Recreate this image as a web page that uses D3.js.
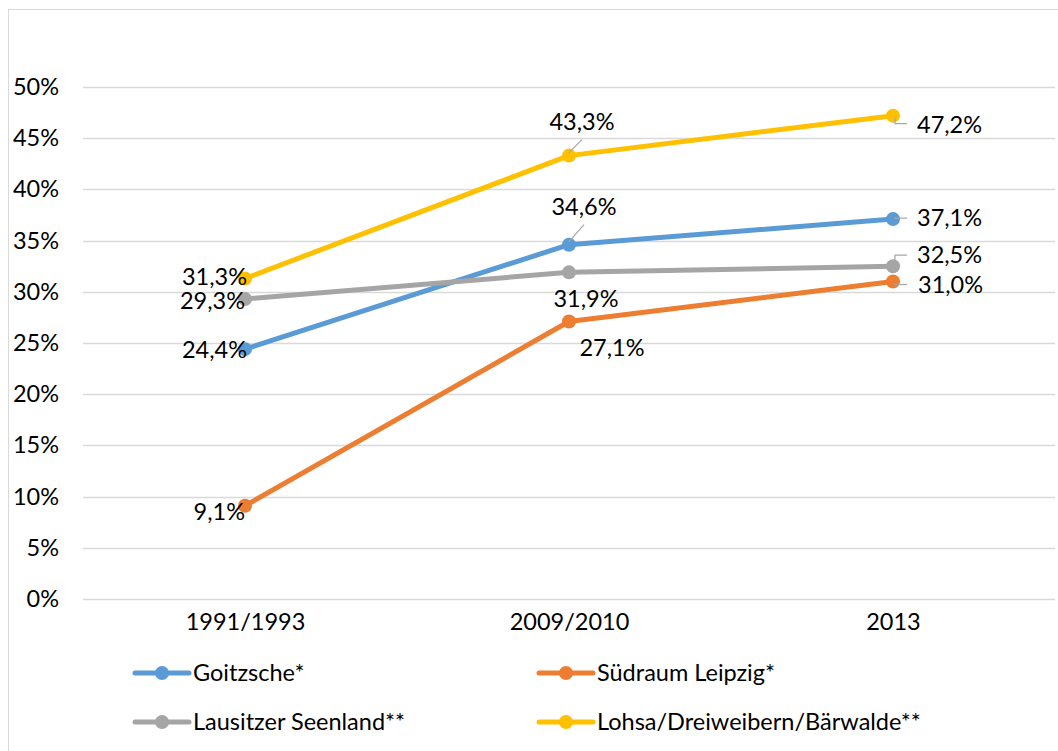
<!DOCTYPE html>
<html>
<head>
<meta charset="utf-8">
<script src="https://cdn.jsdelivr.net/npm/d3@7"></script>
<style>
  html, body { margin: 0; padding: 0; background: #fff; }
  svg { display: block; }
  text { font-family: Lato, "Open Sans", sans-serif; fill: #000; }
</style>
</head>
<body>
<svg id="chart" width="1058" height="751"></svg>
<script>
// ---- data ----
const categories = ["1991/1993", "2009/2010", "2013"];
const seriesNames = ["Goitzsche*", "Südraum Leipzig*", "Lausitzer Seenland**", "Lohsa/Dreiweibern/Bärwalde**"];
const goitzsche = [24.4, 34.6, 37.1];
const suedraumLeipzig = [9.1, 27.1, 31.0];
const lausitzerSeenland = [29.3, 31.9, 32.5];
const lohsa = [31.3, 43.3, 47.2];
const yTicks = [0, 5, 10, 15, 20, 25, 30, 35, 40, 45, 50];

// ---- styling / layout ----
const FS = 23.5;
const colors = ["#5B9BD5", "#ED7D31", "#A5A5A5", "#FFC000"];
const seriesValues = [goitzsche, suedraumLeipzig, lausitzerSeenland, lohsa];
// label placement per series per point: [dx, dy, anchor, leader]
const labelPlacement = [
  [[2, 1, "end", null], [15, -38, "middle", "diag"], [24, -1, "start", "h"]],
  [[0, 6, "end", null], [43, 26, "middle", null], [25, 3, "start", "h"]],
  [[0, 2, "end", null], [17, 26, "middle", null], [24, -11, "start", "up"]],
  [[2, -2, "end", null], [13, -34, "middle", "diag"], [24, 9, "start", "down"]]
];

const svg = d3.select("#chart");
const fmt = v => d3.format(".1f")(v).replace(".", ",") + "%";

// outer border
svg.append("rect").attr("x", 8.5).attr("y", 9.5).attr("width", 1060).attr("height", 760)
  .attr("fill", "none").attr("stroke", "#D9D9D9").attr("stroke-width", 1);

const x = d3.scalePoint().domain(categories).range([245, 893]);
const y = d3.scaleLinear().domain([0, 50]).range([599, 87]);
const plotLeft = 83, plotRight = 1055;

// gridlines
svg.append("g").selectAll("line").data(yTicks).join("line")
  .attr("x1", plotLeft).attr("x2", plotRight)
  .attr("y1", d => Math.round(y(d)) + 0.5).attr("y2", d => Math.round(y(d)) + 0.5)
  .attr("stroke", "#D9D9D9").attr("stroke-width", 1.5);

// y axis labels
const yAxis = d3.axisLeft(y).tickValues(yTicks).tickFormat(d => d + "%").tickSize(0).tickPadding(0);
const yg = svg.append("g").attr("transform", "translate(59,0)").call(yAxis);
yg.select(".domain").remove();
yg.selectAll("text").attr("font-size", FS).attr("font-family", "Lato, sans-serif").attr("fill", "#000");

// x axis labels
const xAxis = d3.axisBottom(x).tickSize(0).tickPadding(0);
const xg = svg.append("g").attr("transform", "translate(0,613)").call(xAxis);
xg.select(".domain").remove();
xg.selectAll("text").attr("font-size", FS).attr("font-family", "Lato, sans-serif").attr("fill", "#000");

// lines
const line = d3.line().x((d, i) => x(categories[i])).y(d => y(d));
seriesValues.forEach((vals, s) => {
  svg.append("path").datum(vals).attr("d", line)
    .attr("fill", "none").attr("stroke", colors[s]).attr("stroke-width", 5)
    .attr("stroke-linejoin", "round").attr("stroke-linecap", "round");
});
// markers
seriesValues.forEach((vals, s) => {
  svg.append("g").selectAll("circle").data(vals).join("circle")
    .attr("cx", (d, i) => x(categories[i])).attr("cy", d => y(d)).attr("r", 7)
    .attr("fill", colors[s]);
});

// labels + leader lines
seriesValues.forEach((vals, s) => {
  vals.forEach((v, i) => {
    const px = x(categories[i]), py = y(v);
    const [dx, dy, anchor, leader] = labelPlacement[s][i];
    const lx = px + dx, ly = py + dy;
    const lg = "#A6A6A6";
    if (leader === "diag") {
      svg.append("line").attr("x1", px).attr("y1", py - 3).attr("x2", px + dx).attr("y2", ly + 18)
        .attr("stroke", lg).attr("stroke-width", 1.2);
    } else if (leader === "h") {
      svg.append("polyline").attr("points", `${px + 1},${ly} ${px + 14},${ly}`)
        .attr("fill", "none").attr("stroke", lg).attr("stroke-width", 1.2);
    } else if (leader === "up") {
      svg.append("polyline").attr("points", `${px + 2},${py - 4} ${px + 2},${ly} ${px + 14},${ly}`)
        .attr("fill", "none").attr("stroke", lg).attr("stroke-width", 1.2);
    } else if (leader === "down") {
      svg.append("polyline").attr("points", `${px + 2},${py + 2} ${px + 2},${ly - 1} ${px + 14},${ly - 1}`)
        .attr("fill", "none").attr("stroke", lg).attr("stroke-width", 1.2);
    }
    svg.append("text").attr("x", lx).attr("y", ly).attr("dy", "0.35em")
      .attr("text-anchor", anchor).attr("font-size", FS).text(fmt(v));
  });
});

// legend
const legendPos = [[134, 673], [538, 673], [134, 722], [538, 722]];
seriesNames.forEach((name, s) => {
  const [lx, ly] = legendPos[s];
  const g = svg.append("g").attr("transform", `translate(${lx},${ly})`);
  g.append("line").attr("x1", 1).attr("x2", 55).attr("y1", 0).attr("y2", 0)
    .attr("stroke", colors[s]).attr("stroke-width", 5).attr("stroke-linecap", "round");
  g.append("circle").attr("cx", 28).attr("cy", 0).attr("r", 7).attr("fill", colors[s]);
  g.append("text").attr("x", 59).attr("y", 0).attr("dy", "0.35em").attr("font-size", FS).text(name);
});
</script>
</body>
</html>
